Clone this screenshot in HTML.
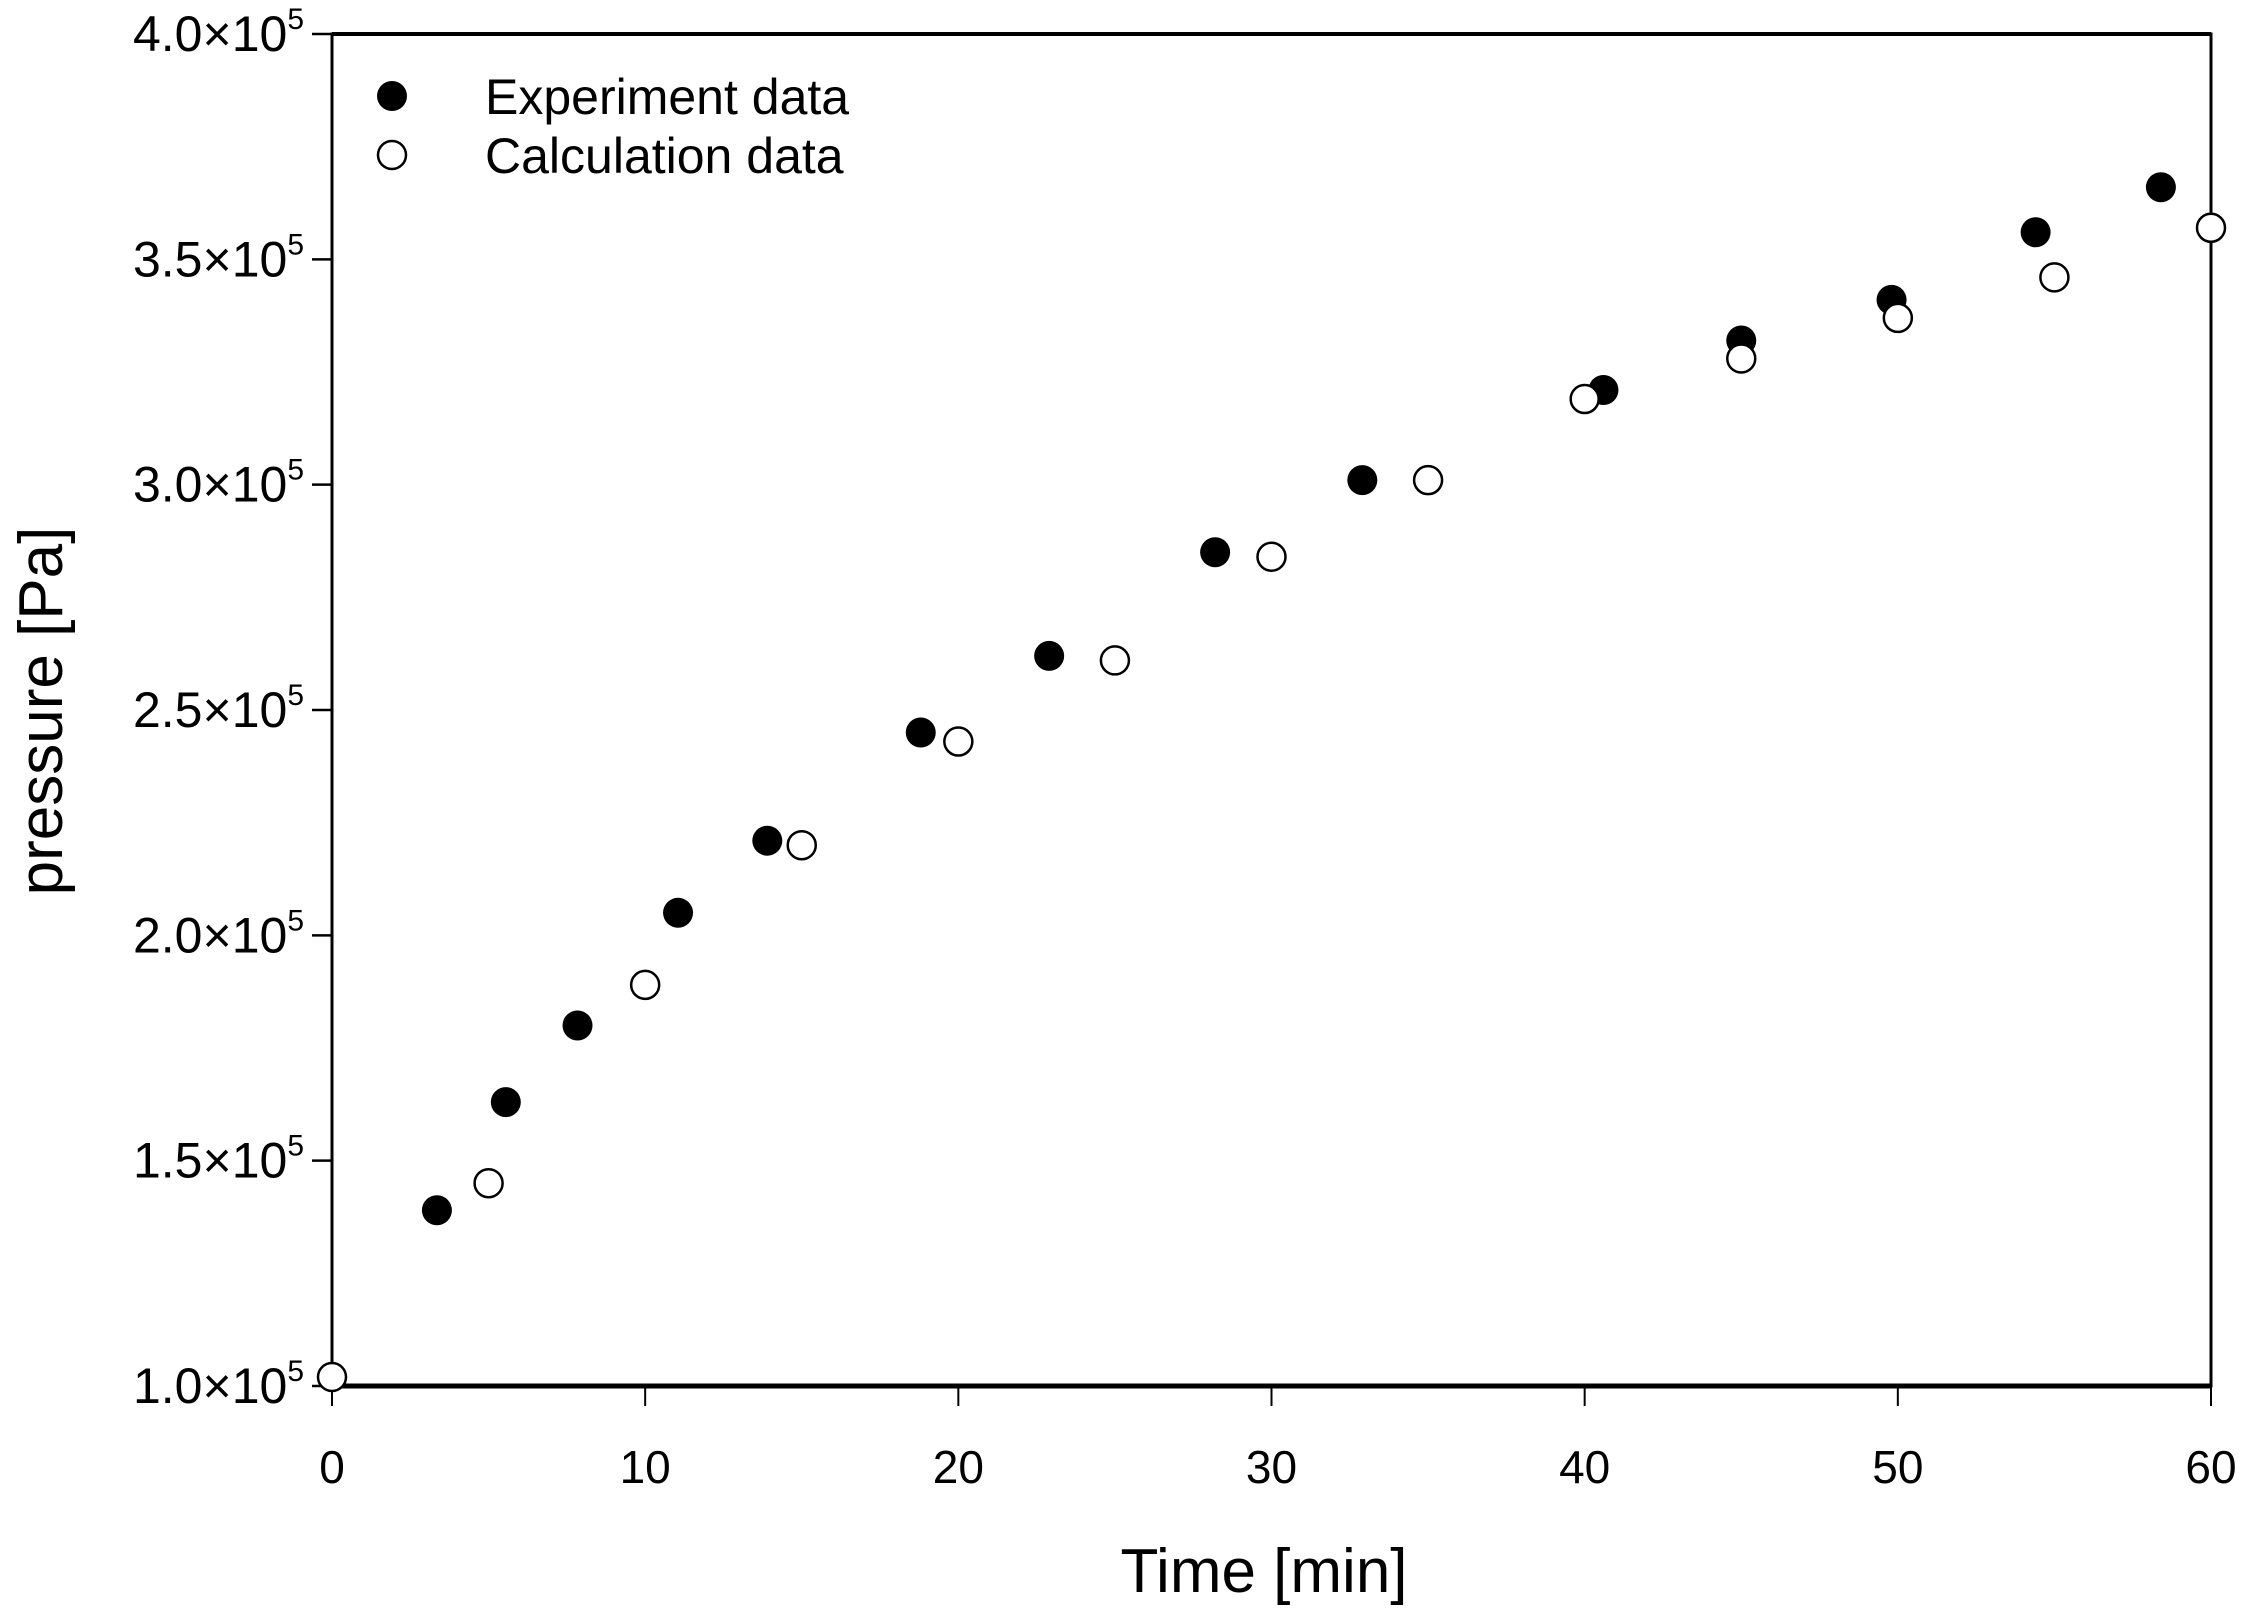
<!DOCTYPE html>
<html><head><meta charset="utf-8"><style>
html,body{margin:0;padding:0;background:#fff;}
svg{display:block;font-family:"Liberation Sans",Arial,sans-serif;}
</style></head><body>
<svg id="chart" width="2250" height="1617" viewBox="0 0 2250 1617" xmlns="http://www.w3.org/2000/svg">
<rect width="2250" height="1617" fill="#fff"/>
<g id="axes"></g>
<g id="marks"></g>
<g id="legend">
  <circle cx="392" cy="96" r="15" fill="#000"/>
  <text x="485" y="114" font-size="50">Experiment data</text>
  <circle cx="392" cy="155" r="14" fill="#fff" stroke="#000" stroke-width="2.5"/>
  <text x="485" y="173" font-size="50">Calculation data</text>
</g>
<text x="1264" y="1592" font-size="62" text-anchor="middle">Time [min]</text>
<text transform="translate(62,711) rotate(-90)" font-size="62" text-anchor="middle">pressure [Pa]</text>
</svg>
<script>
const expTime = [3.35,5.55,7.84,11.05,13.9,18.8,22.9,28.2,32.9,40.6,45.0,49.8,54.4,58.4];
const expPressure = [1.39,1.63,1.80,2.05,2.21,2.45,2.62,2.85,3.01,3.21,3.32,3.41,3.56,3.66];
const calcTime = [0,5,10,15,20,25,30,35,40,45,50,55,60];
const calcPressure = [1.02,1.45,1.89,2.20,2.43,2.61,2.84,3.01,3.19,3.28,3.37,3.46,3.57];
const xTicks = [0,10,20,30,40,50,60];
const xTickLabels = ["0","10","20","30","40","50","60"];
const yTicks = [1.0,1.5,2.0,2.5,3.0,3.5,4.0];
const yTickLabels = ["1.0","1.5","2.0","2.5","3.0","3.5","4.0"];

const L=332,R=2211,T=34,B=1386;
const xMin=0,xMax=60,yMin=1.0,yMax=4.0;
function sx(v){return L+(v-xMin)/(xMax-xMin)*(R-L);}
function sy(v){return B-(v-yMin)/(yMax-yMin)*(B-T);}
const NS="http://www.w3.org/2000/svg";
function mk(tag,attrs,parent){const e=document.createElementNS(NS,tag);for(const k in attrs)e.setAttribute(k,attrs[k]);parent.appendChild(e);return e;}
const axes=document.getElementById('axes');
const marks=document.getElementById('marks');

let frame=mk('rect',{x:L,y:T,width:R-L,height:B-T,fill:'none',stroke:'#000','stroke-width':3},axes);


let bl=mk('line',{x1:L,y1:B,x2:R,y2:B,stroke:'#000','stroke-width':5},axes);


let tl=mk('line',{x1:L,y1:T,x2:R,y2:T,stroke:'#000','stroke-width':4},axes);



xTicks.forEach((v,i)=>{
  const t=mk('line',{x1:sx(v),y1:B,x2:sx(v),y2:B+20,stroke:'#000','stroke-width':2},axes);
  
  
  const lb=mk('text',{x:sx(v),y:1483,'font-size':46,'text-anchor':'middle'},axes);
  lb.textContent=xTickLabels[i];
  
  
});
yTicks.forEach((v,i)=>{
  const t=mk('line',{x1:L-20,y1:sy(v),x2:L,y2:sy(v),stroke:'#000','stroke-width':2.5},axes);
  
  
  const lb=mk('text',{x:L-28,y:sy(v)+17,'font-size':50,'text-anchor':'end'},axes);
  
  
  const m=document.createElementNS(NS,'tspan');m.textContent=yTickLabels[i]+"\u00d710";lb.appendChild(m);
  const s=document.createElementNS(NS,'tspan');s.textContent="5";s.setAttribute('font-size','30');s.setAttribute('dy','-22');lb.appendChild(s);
});

expTime.forEach((t,i)=>{
  const c=mk('circle',{cx:sx(t),cy:sy(expPressure[i]),r:15,fill:'#000'},marks);
  
  
});
calcTime.forEach((t,i)=>{
  const c=mk('circle',{cx:sx(t),cy:sy(calcPressure[i]),r:14,fill:'#fff',stroke:'#000','stroke-width':2.5},marks);
  
  
});
</script>
</body></html>
